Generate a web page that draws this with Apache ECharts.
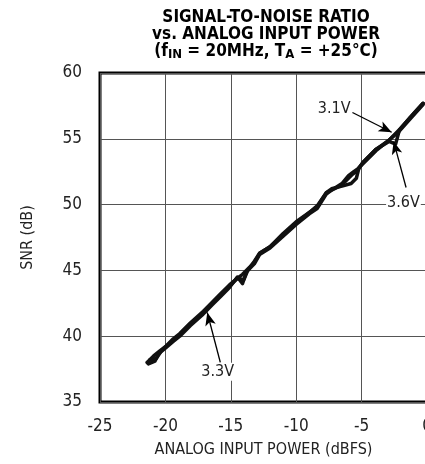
<!DOCTYPE html>
<html>
<head>
<meta charset="utf-8">
<script src="https://cdn.jsdelivr.net/npm/echarts@6/dist/echarts.min.js"></script>
<style>
  html, body { margin: 0; padding: 0; background: #fff; }
  #snrChart { width: 425px; height: 464px; }
</style>
</head>
<body>
<div id="snrChart"></div>
<script>
// x ticks / y ticks
const xTicks = [-25, -20, -15, -10, -5, 0]
const yTicks = [35, 40, 45, 50, 55, 60]

// 3.1V supply
const power31 = [-21.4, -20.9, -20.4, -20.0, -19.4, -18.9, -18.1, -17.1, -16.4, -15.8, -15.1, -14.5, -14.1, -13.7, -13.2, -12.8, -12.0, -11.0, -10.0, -9.0, -8.4, -7.7, -7.3, -6.5, -6.1, -5.7, -5.3, -4.9, -3.9, -2.9, -2.1, -1.3, -0.3]
const snr31 = [38.0, 38.5, 38.9, 39.2, 39.7, 40.1, 40.9, 41.8, 42.5, 43.1, 43.8, 44.4, 44.7, 45.1, 45.6, 46.3, 46.8, 47.7, 48.6, 49.4, 49.8, 50.9, 51.1, 51.5, 51.9, 52.3, 52.6, 53.2, 54.2, 54.9, 55.7, 56.6, 57.7]

// 3.3V supply
const power33 = [-21.3, -20.8, -20.5, -20.0, -19.4, -18.9, -18.1, -17.2, -16.9, -16.4, -15.8, -15.1, -14.5, -14.1, -13.8, -13.2, -12.8, -12.0, -11.0, -10.0, -9.0, -8.4, -7.7, -7.3, -6.5, -6.0, -5.6, -5.3, -4.9, -3.9, -2.9, -2.1, -1.3, -0.3]
const snr33 = [37.9, 38.1, 38.7, 39.1, 39.6, 40.0, 40.8, 41.6, 41.9, 42.4, 43.0, 43.7, 44.5, 44.0, 44.9, 45.5, 46.2, 46.7, 47.6, 48.5, 49.3, 49.7, 50.8, 51.1, 51.6, 52.2, 52.5, 52.7, 53.1, 54.1, 54.9, 55.6, 56.5, 57.6]

// 3.6V supply
const power36 = [-21.2, -20.7, -20.3, -19.9, -19.4, -18.9, -18.1, -17.1, -16.4, -15.8, -15.1, -14.5, -14.0, -13.7, -13.2, -12.8, -12.0, -11.0, -10.0, -9.0, -8.4, -7.7, -7.3, -6.5, -5.8, -5.4, -5.2, -4.9, -3.9, -2.9, -2.4, -2.1, -1.3, -0.3]
const snr36 = [38.2, 38.3, 38.9, 39.3, 39.8, 40.2, 41.0, 41.9, 42.6, 43.2, 43.9, 44.4, 44.3, 45.0, 45.7, 46.3, 46.8, 47.8, 48.7, 49.4, 49.9, 50.9, 51.2, 51.4, 51.6, 52.0, 52.8, 53.2, 54.2, 54.8, 54.6, 55.7, 56.6, 57.7]

// callouts (data coords)
const calloutText = ['3.1V', '3.3V', '3.6V']
const calloutAt = [[-7.1, 57.3], [-16.0, 37.3], [-1.8, 50.1]]
const arrowFrom = [[-5.7, 57.0], [-15.8, 38.0], [-1.6, 51.3]]
const arrowTo = [[-2.7, 55.5], [-16.8, 41.8], [-2.55, 54.8]]

const FONT = "'DejaVu Sans Condensed', 'Liberation Sans Narrow', sans-serif"

const zip = (xs, ys) => xs.map((x, i) => [x, ys[i]])

const lineSeries = (name, xs, ys) => ({
    name: name,
    type: 'line',
    data: zip(xs, ys),
    symbol: 'none',
    smooth: false,
    silent: true,
    animation: false,
    lineStyle: { color: '#111', width: 3.5, join: 'round', cap: 'round' }
})

const chart = echarts.init(document.getElementById('snrChart'))

const s31 = lineSeries('3.1V', power31, snr31)
const s33 = lineSeries('3.3V', power33, snr33)
const s36 = lineSeries('3.6V', power36, snr36)

// arrows + text callouts hang off the first series
s31.markLine = {
    silent: true,
    animation: false,
    symbol: ['none', 'arrow'],
    symbolSize: [8, 13],
    label: { show: false },
    lineStyle: { color: '#000', width: 1.3, type: 'solid' },
    data: arrowFrom.map((p, i) => [{ coord: p }, { coord: arrowTo[i] }])
}
s31.markPoint = {
    silent: true,
    animation: false,
    symbol: 'rect',
    symbolSize: 1,
    itemStyle: { color: 'rgba(0,0,0,0)' },
    label: {
        show: true,
        position: 'inside',
        color: '#222',
        fontFamily: FONT,
        fontSize: 16,
        backgroundColor: '#fff',
        padding: [1, 1]
    },
    data: calloutText.map((t, i) => ({ coord: calloutAt[i], value: t, label: { formatter: t } }))
}

chart.setOption({
    animation: false,
    title: {
        text: 'SIGNAL-TO-NOISE RATIO\nvs. ANALOG INPUT POWER\n(f{sub|IN} = 20MHz, T{sub|A} = +25°C)',
        left: 261,
        top: 4,
        textAlign: 'center',
        textStyle: {
            fontFamily: FONT,
            fontWeight: 'bold',
            fontSize: 17,
            lineHeight: 17,
            color: '#000',
            rich: {
                sub: { fontFamily: FONT, fontWeight: 'bold', fontSize: 13, color: '#000', padding: [7, 0, 0, 0] }
            }
        }
    },
    grid: {
        left: 100,
        top: 73,
        right: -2,
        bottom: 62,
        show: true,
        borderColor: '#000',
        borderWidth: 3,
        containLabel: false,
        outerBoundsMode: 'none'
    },
    xAxis: {
        type: 'value',
        min: xTicks[0],
        max: xTicks[xTicks.length - 1],
        interval: 5,
        name: 'ANALOG INPUT POWER (dBFS)',
        nameLocation: 'middle',
        nameGap: 40,
        nameTextStyle: { fontFamily: FONT, fontSize: 16, color: '#222' },
        axisLine: { show: false },
        axisTick: { show: false },
        axisLabel: { fontFamily: FONT, fontSize: 17, color: '#222', margin: 16 },
        splitLine: { show: true, lineStyle: { color: '#555', width: 1 } }
    },
    yAxis: {
        type: 'value',
        min: yTicks[0],
        max: yTicks[yTicks.length - 1],
        interval: 5,
        name: 'SNR (dB)',
        nameLocation: 'middle',
        nameGap: 64,
        nameTextStyle: { fontFamily: FONT, fontSize: 16, color: '#222' },
        axisLine: { show: false },
        axisTick: { show: false },
        axisLabel: { fontFamily: FONT, fontSize: 17, color: '#222', margin: 18 },
        splitLine: { show: true, lineStyle: { color: '#555', width: 1 } }
    },
    series: [s31, s33, s36]
})
</script>
</body>
</html>
